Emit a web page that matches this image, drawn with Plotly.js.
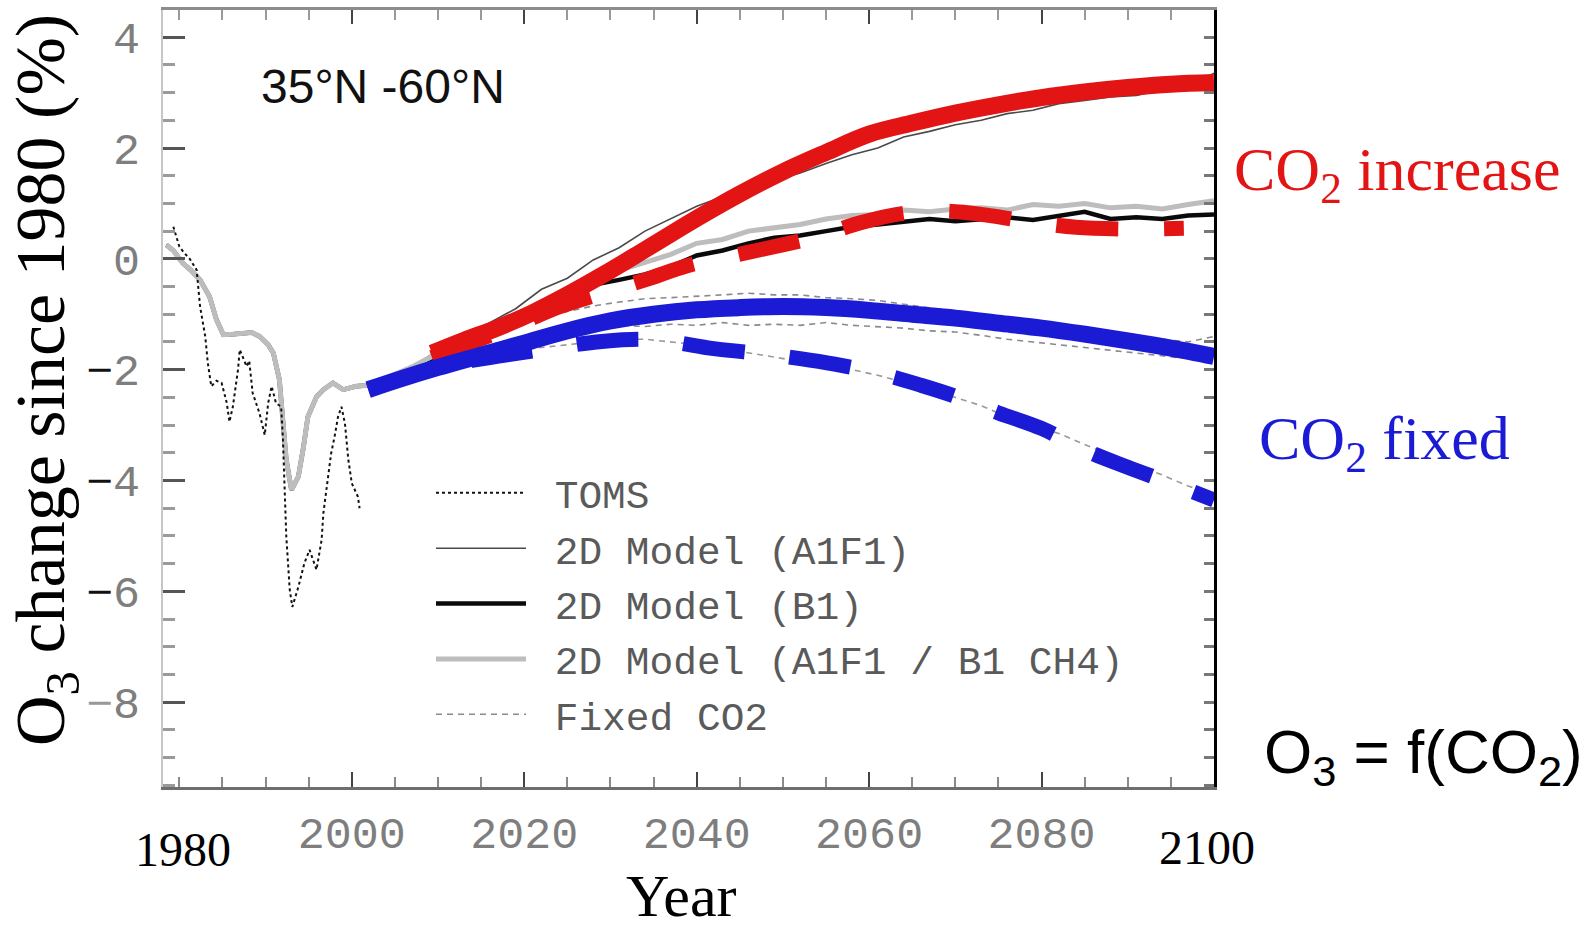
<!DOCTYPE html>
<html>
<head>
<meta charset="utf-8">
<script src="https://cdn.plot.ly/plotly-3.0.1.min.js"></script>
<style>html,body{margin:0;padding:0;background:#fff;}#chart{width:1590px;height:930px;}</style>
</head>
<body>
<div id="chart"></div>
<script>
// ---------- data ----------
// TOMS observations, 35N-60N
const tomsYears = [1979.3, 1980.0, 1980.6, 1981.2, 1982.0, 1982.4, 1983.0, 1983.3, 1983.7, 1984.3, 1984.9, 1985.5, 1985.8, 1986.2, 1986.8, 1987.0, 1987.8, 1988.1, 1988.5, 1989.3, 1989.9, 1990.3, 1990.7, 1991.2, 1991.8, 1992.0, 1992.2, 1992.4, 1992.8, 1993.1, 1993.8, 1994.5, 1995.1, 1995.9, 1996.5, 1996.7, 1997.1, 1997.6, 1998.0, 1998.4, 1998.8, 1999.2, 1999.6, 2000.0, 2000.7, 2000.9];
const tomsValues = [0.58, 0.22, 0.10, 0.0, -0.20, -0.86, -1.40, -1.88, -2.30, -2.20, -2.24, -2.60, -2.94, -2.67, -2.00, -1.64, -1.94, -1.84, -2.42, -2.79, -3.18, -2.60, -2.30, -2.60, -2.67, -3.21, -4.11, -5.01, -5.97, -6.28, -5.92, -5.49, -5.25, -5.61, -5.07, -4.59, -4.11, -3.51, -3.21, -2.85, -2.67, -2.97, -3.63, -4.05, -4.29, -4.50];

// 2D model, historical period (all scenarios coincide)
const histYears = [1978.5, 1979.3, 1980.4, 1981.3, 1982.4, 1983.5, 1984.3, 1985.1, 1986.2, 1987.4, 1988.4, 1989.3, 1990.3, 1990.9, 1991.6, 1992.0, 1992.4, 1993.0, 1993.8, 1994.4, 1994.9, 1995.9, 1996.7, 1997.8, 1999.0, 2000.5, 2001.9];
const histModel = [0.25, 0.15, -0.08, -0.20, -0.38, -0.68, -1.10, -1.37, -1.36, -1.34, -1.33, -1.40, -1.55, -1.70, -2.18, -2.91, -3.63, -4.17, -3.93, -3.39, -2.85, -2.49, -2.36, -2.24, -2.36, -2.30, -2.28];

// 2D model, projections
const futureYears = [2004, 2007, 2010, 2013, 2016, 2019, 2022, 2025, 2028, 2031, 2034, 2037, 2040, 2043, 2046, 2049, 2052, 2055, 2058, 2061, 2064, 2067, 2070, 2073, 2076, 2079, 2082, 2085, 2088, 2091, 2094, 2097, 2100];
const modelA1F1 = [-2.20, -1.95, -1.65, -1.45, -1.15, -0.90, -0.55, -0.35, -0.02, 0.20, 0.50, 0.72, 0.95, 1.12, 1.30, 1.42, 1.55, 1.72, 1.88, 2.00, 2.20, 2.30, 2.42, 2.50, 2.62, 2.68, 2.80, 2.86, 2.92, 2.95, 3.05, 3.10, 3.35];
const modelB1 = [-2.20, -2.00, -1.75, -1.55, -1.35, -1.20, -0.95, -0.62, -0.47, -0.38, -0.28, -0.14, 0.06, 0.15, 0.28, 0.38, 0.42, 0.50, 0.58, 0.62, 0.66, 0.72, 0.68, 0.72, 0.75, 0.70, 0.78, 0.85, 0.72, 0.75, 0.72, 0.78, 0.80];
const modelCH4 = [-2.15, -1.95, -1.70, -1.50, -1.30, -1.10, -0.85, -0.55, -0.35, -0.20, -0.05, 0.08, 0.28, 0.35, 0.50, 0.55, 0.62, 0.72, 0.78, 0.80, 0.88, 0.85, 0.90, 0.92, 0.88, 0.98, 0.95, 1.00, 0.92, 0.95, 0.90, 0.98, 1.05];
const fixedUpper = [-2.20, -1.95, -1.75, -1.55, -1.35, -1.20, -1.05, -0.95, -0.85, -0.78, -0.72, -0.70, -0.68, -0.65, -0.62, -0.65, -0.65, -0.70, -0.72, -0.75, -0.82, -0.88, -0.95, -1.02, -1.08, -1.15, -1.20, -1.28, -1.35, -1.38, -1.45, -1.50, -1.40];
const fixedMiddle = [-2.25, -2.05, -1.85, -1.70, -1.55, -1.45, -1.35, -1.30, -1.25, -1.20, -1.22, -1.18, -1.20, -1.15, -1.20, -1.18, -1.20, -1.15, -1.20, -1.22, -1.25, -1.30, -1.32, -1.38, -1.45, -1.50, -1.55, -1.60, -1.65, -1.70, -1.75, -1.80, -1.85];
const fixedLower = [-2.25, -2.05, -1.90, -1.80, -1.72, -1.65, -1.60, -1.55, -1.50, -1.45, -1.45, -1.50, -1.55, -1.62, -1.70, -1.78, -1.85, -1.92, -2.00, -2.10, -2.22, -2.35, -2.50, -2.65, -2.85, -3.02, -3.15, -3.35, -3.55, -3.72, -3.90, -4.10, -4.25];

// Hand-drawn highlight curves
const co2IncYears = [2009.3, 2013, 2017, 2021, 2025, 2029, 2033, 2037, 2041, 2045, 2050, 2055, 2060, 2065, 2070, 2075, 2080, 2085, 2090, 2095, 2100];
const co2IncSolid = [-1.70, -1.47, -1.24, -0.97, -0.65, -0.30, 0.07, 0.45, 0.82, 1.17, 1.57, 1.92, 2.25, 2.45, 2.63, 2.78, 2.91, 3.01, 3.09, 3.15, 3.18];
const co2IncDashYears = [2009.3, 2014, 2019, 2024, 2029, 2034, 2039, 2044, 2049, 2054, 2059, 2064, 2069, 2074, 2079, 2084, 2089, 2093, 2096.5];
const co2IncDash = [-1.78, -1.50, -1.20, -0.87, -0.62, -0.38, -0.12, 0.05, 0.22, 0.40, 0.65, 0.82, 0.86, 0.78, 0.66, 0.57, 0.54, 0.54, 0.55];
const co2FixYears = [2001.9, 2006, 2010, 2015, 2020, 2025, 2030, 2035, 2040, 2045, 2050, 2055, 2060, 2065, 2070, 2075, 2080, 2085, 2090, 2095, 2100];
const co2FixSolid = [-2.36, -2.15, -1.96, -1.74, -1.52, -1.30, -1.12, -1.00, -0.92, -0.88, -0.86, -0.88, -0.93, -1.00, -1.07, -1.16, -1.25, -1.36, -1.48, -1.61, -1.76];
const co2FixDashYears = [2001.9, 2006, 2010, 2016, 2022, 2029, 2035, 2042, 2048, 2052, 2056, 2061, 2066, 2070, 2075, 2080, 2085, 2090, 2095, 2100];
const co2FixDash = [-2.36, -2.15, -1.95, -1.78, -1.64, -1.49, -1.46, -1.62, -1.72, -1.80, -1.90, -2.06, -2.28, -2.48, -2.78, -3.06, -3.45, -3.76, -4.05, -4.35];

// Axis ticks
const xTickVals = [2000, 2020, 2040, 2060, 2080];
const xTickText = ['2000', '2020', '2040', '2060', '2080'];
const yTickVals = [4, 2, 0, -2, -4, -6, -8];
const yTickText = ['4', '2', '0', '<span style="color:#111">\u2212</span>2', '<span style="color:#111">\u2212</span>4', '<span style="color:#111">\u2212</span>6', '<span style="color:#999">\u2212</span>8'];

// ---------- build ----------
const allYears = histYears.concat(futureYears);
const XR = [1978.1, 2100];
const YR = [-9.53, 4.49];
const NB = '\u00a0';
const legendFont = {family: 'Liberation Mono, monospace', size: 39.5, color: '#5a5a5a'};

const traces = [
  {name: NB + '2D Model (A1F1)', x: allYears, y: histModel.concat(modelA1F1), mode: 'lines',
   line: {color: '#4a4a4a', width: 1.6}, legendgroup: 'g2', legendrank: 2},
  {name: NB + '2D Model (B1)', x: allYears, y: histModel.concat(modelB1), mode: 'lines',
   line: {color: '#0a0a0a', width: 4.5}, legendgroup: 'g3', legendrank: 3},
  {name: NB + 'Fixed CO2', x: allYears, y: histModel.concat(fixedUpper), mode: 'lines',
   line: {color: '#8a8a8a', width: 1.6, dash: '6px,5px'}, legendgroup: 'g5', legendrank: 5},
  {name: NB + 'Fixed CO2', x: allYears, y: histModel.concat(fixedMiddle), mode: 'lines',
   line: {color: '#8a8a8a', width: 1.6, dash: '6px,5px'}, legendgroup: 'g5', showlegend: false},
  {name: NB + 'Fixed CO2', x: allYears, y: histModel.concat(fixedLower), mode: 'lines',
   line: {color: '#9a9a9a', width: 1.6, dash: '6px,5px'}, legendgroup: 'g5', showlegend: false},
  {name: NB + '2D Model (A1F1 / B1 CH4)', x: allYears, y: histModel.concat(modelCH4), mode: 'lines',
   line: {color: '#bdbdbd', width: 5}, legendgroup: 'g4', legendrank: 4},
  {name: NB + 'TOMS', x: tomsYears, y: tomsValues, mode: 'lines',
   line: {color: '#111', width: 2, dash: '3px,3px'}, legendgroup: 'g1', legendrank: 1},
  // highlight overlays (on the overlaid x2/y2 axes, drawn on top)
  {name: 'CO2 increase (A1F1)', x: co2IncYears, y: co2IncSolid, mode: 'lines', xaxis: 'x2', yaxis: 'y2',
   line: {color: '#e31414', width: 17, shape: 'spline'}, showlegend: false},
  {name: 'CO2 increase (B1)', x: co2IncDashYears, y: co2IncDash, mode: 'lines', xaxis: 'x2', yaxis: 'y2',
   line: {color: '#e31414', width: 15, dash: '62px,46px', shape: 'spline'}, showlegend: false},
  {name: 'CO2 fixed (A1F1)', x: co2FixYears, y: co2FixSolid, mode: 'lines', xaxis: 'x2', yaxis: 'y2',
   line: {color: '#1b1bd6', width: 17, shape: 'spline'}, showlegend: false},
  {name: 'CO2 fixed (B1)', x: co2FixDashYears, y: co2FixDash, mode: 'lines', xaxis: 'x2', yaxis: 'y2',
   line: {color: '#1b1bd6', width: 15, dash: '62px,45px', shape: 'spline'}, showlegend: false}
];

const tickFont = {family: 'Liberation Mono, monospace', size: 45, color: '#7e7e7e'};

const layout = {
  width: 1590, height: 930,
  margin: {l: 163, r: 376, t: 10, b: 143},
  paper_bgcolor: '#fff', plot_bgcolor: '#fff',
  showlegend: true,
  legend: {
    x: 0.255, y: 0.42, xanchor: 'left', yanchor: 'top',
    bgcolor: 'rgba(0,0,0,0)', borderwidth: 0,
    font: legendFont, itemwidth: 90, tracegroupgap: 1, traceorder: 'grouped'
  },
  xaxis: {
    range: XR, showgrid: false, zeroline: false,
    showline: true, linecolor: '#6e6e6e', linewidth: 3,
    ticks: 'inside', tickmode: 'array', tickvals: xTickVals, ticktext: xTickText,
    ticklen: 15, tickwidth: 2, tickcolor: '#444',
    tickfont: tickFont, ticklabelstandoff: 4,
    minor: {ticks: 'inside', tick0: 1980, dtick: 5, ticklen: 10, tickwidth: 2, tickcolor: '#8a8a8a', showgrid: false}
  },
  yaxis: {
    range: YR, showgrid: false, zeroline: false,
    showline: true, linecolor: '#c6c6c6', linewidth: 2,
    ticks: 'inside', tickmode: 'array', tickvals: yTickVals, ticktext: yTickText,
    ticklen: 22, tickwidth: 3, tickcolor: '#555',
    tickfont: tickFont, ticklabelstandoff: 12,
    minor: {ticks: 'inside', tick0: 0, dtick: 0.5, ticklen: 12, tickwidth: 3, tickcolor: '#9a9a9a', showgrid: false}
  },
  xaxis2: {
    range: XR, overlaying: 'x', side: 'top', anchor: 'y2',
    showgrid: false, zeroline: false, showticklabels: false,
    showline: true, linecolor: '#8c8c8c', linewidth: 3,
    ticks: 'inside', tickmode: 'array', tickvals: xTickVals, ticklen: 14, tickwidth: 2, tickcolor: '#444',
    minor: {ticks: 'inside', tick0: 1980, dtick: 5, ticklen: 10, tickwidth: 2, tickcolor: '#9a9a9a', showgrid: false}
  },
  yaxis2: {
    range: YR, overlaying: 'y', side: 'right', anchor: 'x2',
    showgrid: false, zeroline: false, showticklabels: false,
    showline: true, linecolor: '#000', linewidth: 3,
    ticks: 'inside', tickmode: 'linear', tick0: 0, dtick: 0.5, ticklen: 10, tickwidth: 3, tickcolor: '#777'
  },
  annotations: [
    {text: 'O<sub>3</sub> change since 1980 (%)', xref: 'paper', yref: 'paper', x: -0.1113, y: 0.5238,
     xanchor: 'center', yanchor: 'middle', textangle: -90,
     showarrow: false, font: {family: 'Liberation Serif, serif', size: 70, color: '#000'}},
    {text: 'Year', xref: 'paper', yref: 'paper', x: 0.4932, y: -0.1403, xanchor: 'center', yanchor: 'middle',
     showarrow: false, font: {family: 'Liberation Serif, serif', size: 60, color: '#000'}},
    {text: '35\u00b0N -60\u00b0N', xref: 'paper', yref: 'paper', x: 0.0913, y: 0.901, xanchor: 'left', yanchor: 'middle',
     showarrow: false, font: {family: 'Liberation Sans, Arial, sans-serif', size: 48, color: '#111'}},
    {text: '1980', xref: 'paper', yref: 'paper', x: 0.019, y: -0.081, xanchor: 'center', yanchor: 'middle',
     showarrow: false, font: {family: 'Liberation Serif, serif', size: 48, color: '#000'}},
    {text: '2100', xref: 'paper', yref: 'paper', x: 0.9933, y: -0.0785, xanchor: 'center', yanchor: 'middle',
     showarrow: false, font: {family: 'Liberation Serif, serif', size: 48, color: '#000'}},
    {text: 'CO<sub>2</sub> increase', xref: 'paper', yref: 'paper', x: 1.017, y: 0.79, xanchor: 'left', yanchor: 'middle',
     showarrow: false, font: {family: 'Liberation Serif, serif', size: 62, color: '#e31414'}},
    {text: 'CO<sub>2</sub> fixed', xref: 'paper', yref: 'paper', x: 1.041, y: 0.444, xanchor: 'left', yanchor: 'middle',
     showarrow: false, font: {family: 'Liberation Serif, serif', size: 62, color: '#1b1bd6'}},
    {text: 'O<sub>3</sub> = f(CO<sub>2</sub>)', xref: 'paper', yref: 'paper', x: 1.0457, y: 0.04, xanchor: 'left', yanchor: 'middle',
     showarrow: false, font: {family: 'Liberation Sans, Arial, sans-serif', size: 62, color: '#000'}}
  ]
};

Plotly.newPlot('chart', traces, layout, {displayModeBar: false, staticPlot: true});
</script>
</body>
</html>
